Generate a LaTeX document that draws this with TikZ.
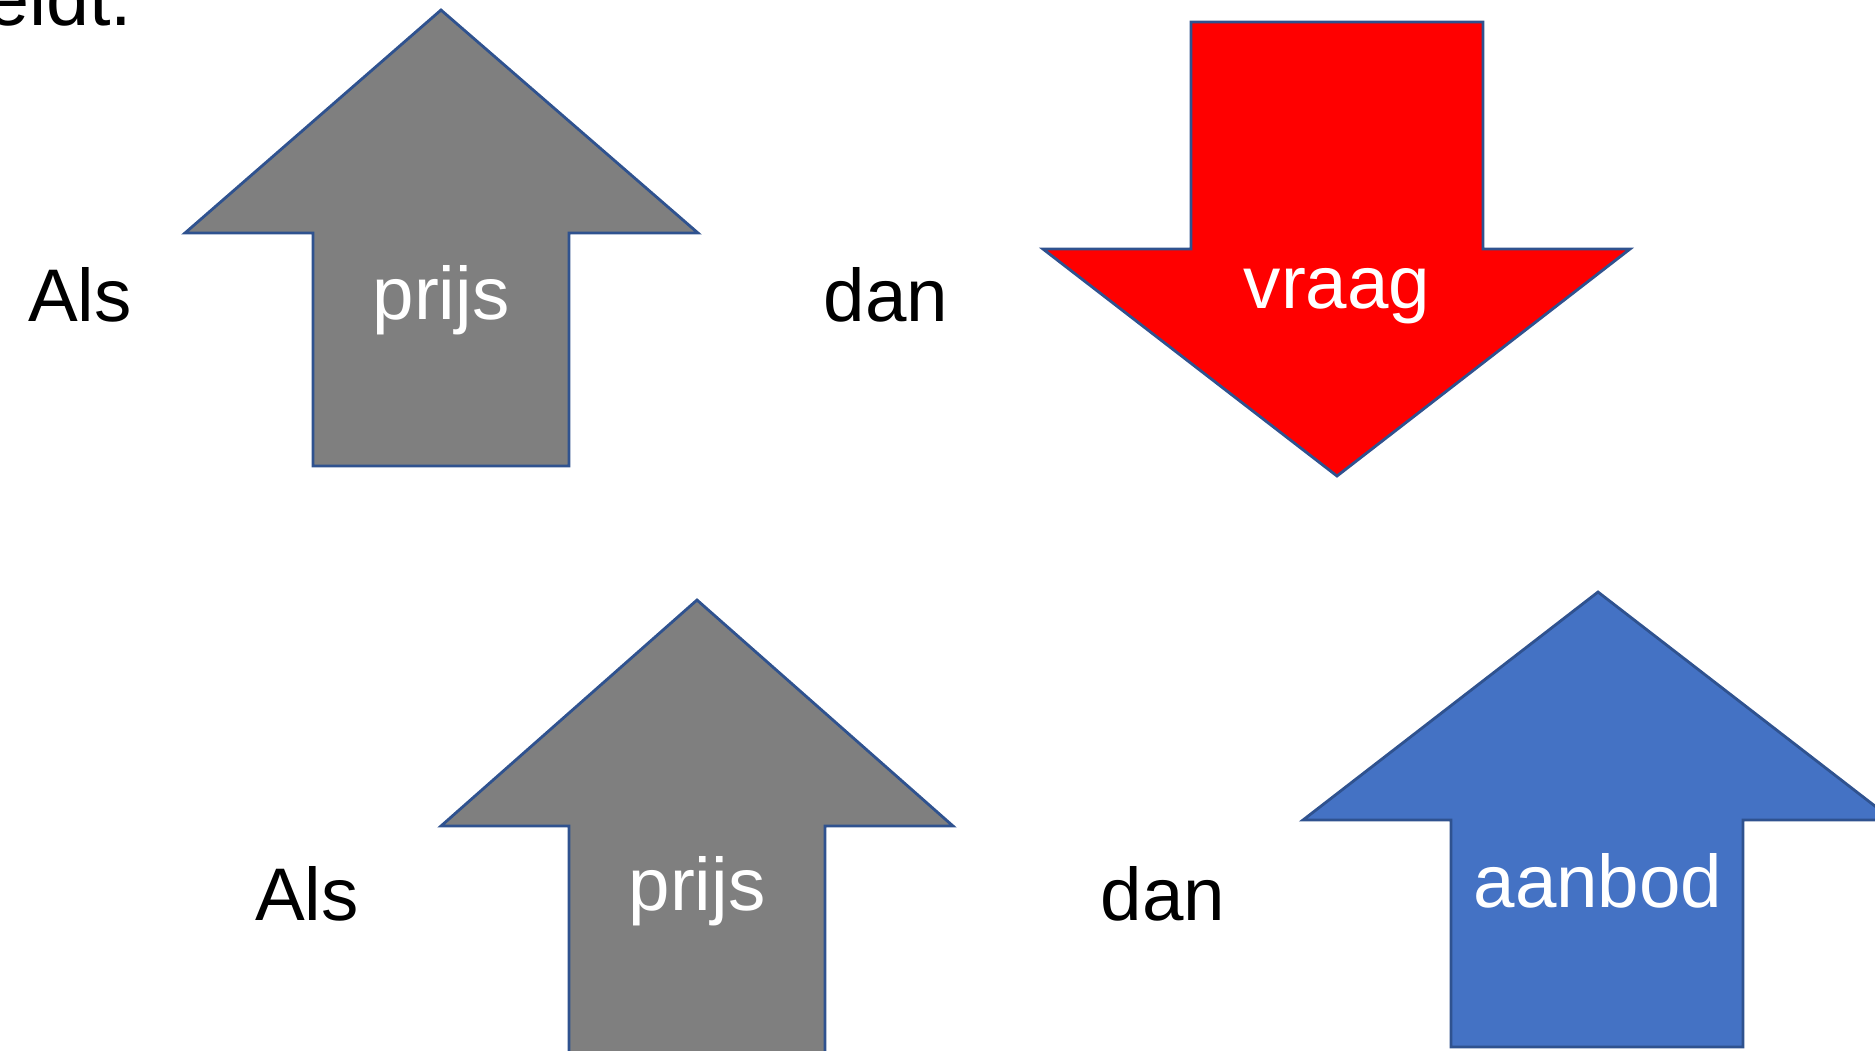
\documentclass[tikz,border=0pt]{standalone}
\usepackage{fontspec}
\setmainfont{Liberation Sans}
\definecolor{shapeline}{HTML}{2F528F}
\definecolor{arrowgray}{HTML}{7F7F7F}
\definecolor{arrowred}{HTML}{FF0000}
\definecolor{arrowblue}{HTML}{4472C4}
\tikzset{
    blockarrow/.style={draw=shapeline, line width=0.8pt, line join=miter},
    word/.style={font=\fontsize{21.2}{26}\selectfont, inner sep=0pt, anchor=base},
    inword/.style={word, text=white},
}

\begin{document}
\begin{tikzpicture}[x=0.01cm, y=-0.01cm]
    \useasboundingbox (0,0) rectangle (1875,1050);
    \clip (0,0) rectangle (1875,1050);
    % top row
    \draw[blockarrow, fill=arrowgray] (441,10) -- (698,233) -- (569,233) -- (569,466)
        -- (313,466) -- (313,233) -- (185,233) -- cycle;
    \draw[blockarrow, fill=arrowred] (1191,22) -- (1483,22) -- (1483,249) -- (1630,249)
        -- (1337,476) -- (1043,249) -- (1191,249) -- cycle;
    % bottom row
    \draw[blockarrow, fill=arrowgray] (697,600) -- (953,826) -- (825,826) -- (825,1060)
        -- (569,1060) -- (569,826) -- (441,826) -- cycle;
    \draw[blockarrow, fill=arrowblue] (1598,592) -- (1893,820) -- (1743,820) -- (1743,1047)
        -- (1451,1047) -- (1451,820) -- (1303,820) -- cycle;
    % texts
    \node[word, anchor=base east, font=\fontsize{22}{26}\selectfont] (kop) at (133,25) {eidt.};
    \node[word] (als1) at (80,321) {Als};
    \node[inword] (prijs1) at (441,319) {prijs};
    \node[word] (dan1) at (886,321) {dan};
    \node[inword] (vraag) at (1337,308) {vraag};
    \node[word] (als2) at (307,920) {Als};
    \node[inword] (prijs2) at (697,910) {prijs};
    \node[word] (dan2) at (1163,920) {dan};
    \node[inword] (aanbod) at (1598,907) {aanbod};
\end{tikzpicture}
\end{document}
